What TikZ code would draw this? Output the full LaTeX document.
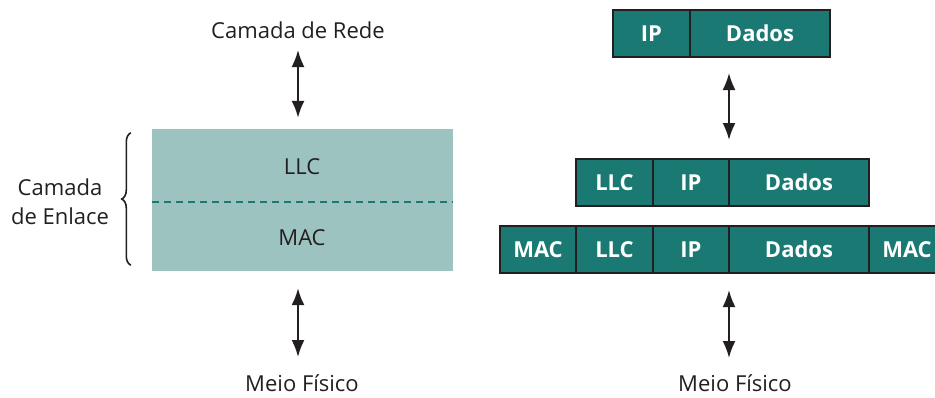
\documentclass[tikz,border=0pt]{standalone}
\usepackage{fontspec}
\setmainfont{Open Sans}
\usetikzlibrary{arrows.meta,decorations.pathreplacing}
\definecolor{verde}{HTML}{1A7A73}
\definecolor{verdeclaro}{HTML}{9CC3C0}
\definecolor{texto}{HTML}{231F20}
\begin{document}
\begin{tikzpicture}[x=1pt,y=-1pt,
  rotulo/.style={text=texto,font=\fontsize{22}{29}\selectfont,align=center},
  celula/.style={draw=texto,line width=1.2pt,fill=verde,text=white,font=\fontsize{22}{26}\selectfont\bfseries,minimum height=47pt,minimum width=77pt,outer sep=0pt,inner sep=0pt,anchor=west},
  seta/.style={line width=2pt,texto,{Latex[length=17pt,width=13pt]}-{Latex[length=17pt,width=13pt]}}]
\clip (0,0) rectangle (935,397);
\node[rotulo](rede) at (298,30){Camada de Rede};
\node[fill=verdeclaro,minimum width=301pt,minimum height=142pt,inner sep=0pt](enlace) at (302.5,200){};
\draw[verde,line width=2.5pt,dash pattern=on 7pt off 5pt](152,202)--(453,202);
\node[rotulo](llc) at (302,167){LLC};
\node[rotulo](mac) at (302,238){MAC};
\draw[texto,line width=1.6pt,decorate,decoration={brace,amplitude=9pt}]
  ([xshift=-21pt,yshift=6pt]enlace.south west)--([xshift=-21pt,yshift=-4pt]enlace.north west);
\node[rotulo](camada) at (60,202){Camada\\de Enlace};
\node[rotulo](meio1) at (302,383){Meio Físico};
\draw[seta,shorten <=20pt,shorten >=11pt](rede.center)--(rede.center|-enlace.north);
\draw[seta,shorten <=17pt,shorten >=26pt](rede|-enlace.south)--(rede|-meio1);
\node[celula](ip0) at (613,33.5){IP};
\node[celula,minimum width=140pt](dados0) at (ip0.east){Dados};
\node[celula](llc1) at (576,182.5){LLC};
\node[celula,minimum width=76pt](ip1) at (llc1.east){IP};
\node[celula,minimum width=140pt](dados1) at (ip1.east){Dados};
\node[celula,minimum width=76pt](mac2) at (500,249.5){MAC};
\node[celula](llc2) at (mac2.east){LLC};
\node[celula,minimum width=76pt](ip2) at (llc2.east){IP};
\node[celula,minimum width=140pt](dados2) at (ip2.east){Dados};
\node[celula,minimum width=76pt](mac3) at (dados2.east){MAC};
\node[rotulo](meio2) at (735,383){Meio Físico};
\draw[seta,shorten <=16pt,shorten >=19pt](ip1.north east|-dados0.south)--(ip1.north east);
\draw[seta,shorten <=17pt,shorten >=25pt](ip2.south east)--(ip2.south east|-meio2);
\end{tikzpicture}
\end{document}
